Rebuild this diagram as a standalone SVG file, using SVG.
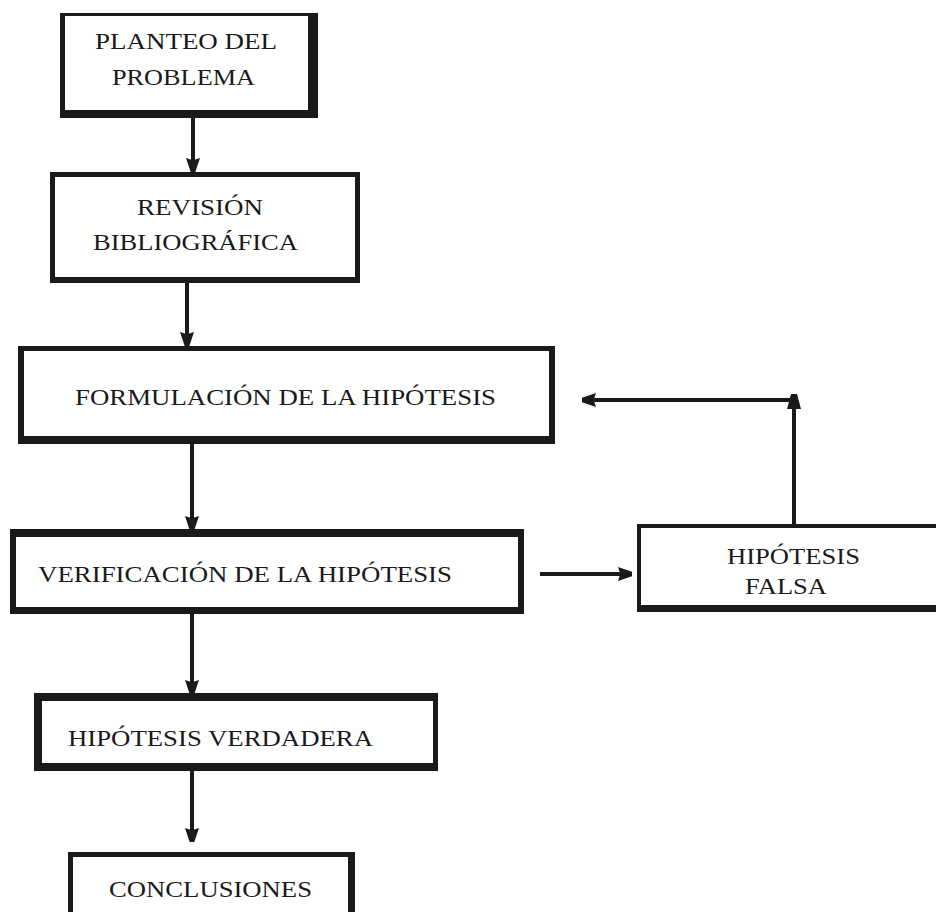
<svg xmlns="http://www.w3.org/2000/svg" width="936" height="912" viewBox="0 0 936 912">
<style>
.o{fill:#1a1a1a}
.i{fill:#fff}
.t{font-family:"Liberation Serif","DejaVu Serif",serif;font-size:23px;fill:#1a1a1a}
.c{stroke:#1a1a1a;stroke-width:4;fill:none}
</style>
<defs>
<marker id="ah" viewBox="0 0 12 12" refX="12" refY="6" markerWidth="14" markerHeight="14" markerUnits="userSpaceOnUse" orient="auto">
<path d="M0,0 L12,4 L12,8 L0,12 L2,6 z" fill="#1a1a1a"/>
</marker>
</defs>
<rect width="936" height="912" fill="#fff"/>
<g id="connectors">
<path class="c" d="M193,118 V172" marker-end="url(#ah)"/>
<path class="c" d="M187,283 V346" marker-end="url(#ah)"/>
<path class="c" d="M192,444 V530" marker-end="url(#ah)"/>
<path class="c" d="M192,613 V694" marker-end="url(#ah)"/>
<path class="c" d="M192,771 V842" marker-end="url(#ah)"/>
<path class="c" d="M540,574 H632" marker-end="url(#ah)"/>
<path class="c" d="M794,525 V400 H582" marker-end="url(#ah)"/>
<path d="M787,409 L791,394 L797,394 L801,409 z" fill="#1a1a1a"/>
</g>
<g id="n1">
<rect class="o" x="60" y="13" width="258" height="105"/>
<rect class="i" x="65" y="16" width="243" height="94"/>
<text class="t" x="95" y="49" textLength="182" lengthAdjust="spacingAndGlyphs">PLANTEO DEL</text>
<text class="t" x="112" y="85" textLength="143" lengthAdjust="spacingAndGlyphs">PROBLEMA</text>
</g>
<g id="n2">
<rect class="o" x="50" y="172" width="310" height="111"/>
<rect class="i" x="55" y="177" width="300" height="100"/>
<text class="t" x="137" y="215" textLength="126" lengthAdjust="spacingAndGlyphs">REVISIÓN</text>
<text class="t" x="93" y="250" textLength="205" lengthAdjust="spacingAndGlyphs">BIBLIOGRÁFICA</text>
</g>
<g id="n3">
<rect class="o" x="18" y="346" width="537" height="98"/>
<rect class="i" x="24" y="351" width="525" height="85"/>
<text class="t" x="75" y="405" textLength="421" lengthAdjust="spacingAndGlyphs">FORMULACIÓN DE LA HIPÓTESIS</text>
</g>
<g id="n4">
<rect class="o" x="10" y="529" width="514" height="85"/>
<rect class="i" x="16" y="537" width="502" height="70"/>
<text class="t" x="38" y="582" textLength="414" lengthAdjust="spacingAndGlyphs">VERIFICACIÓN DE LA HIPÓTESIS</text>
</g>
<g id="n5">
<rect class="o" x="637" y="524" width="310" height="88"/>
<rect class="i" x="641" y="528" width="310" height="77"/>
<text class="t" x="727" y="564" textLength="133" lengthAdjust="spacingAndGlyphs">HIPÓTESIS</text>
<text class="t" x="745" y="594" textLength="82" lengthAdjust="spacingAndGlyphs">FALSA</text>
</g>
<g id="n6">
<rect class="o" x="34" y="693" width="404" height="78"/>
<rect class="i" x="42" y="701" width="391" height="62"/>
<text class="t" x="68" y="746" textLength="305" lengthAdjust="spacingAndGlyphs">HIPÓTESIS VERDADERA</text>
</g>
<g id="n7">
<rect class="o" x="68" y="852" width="287" height="70"/>
<rect class="i" x="73" y="857" width="275" height="70"/>
<text class="t" x="109" y="897" textLength="203" lengthAdjust="spacingAndGlyphs">CONCLUSIONES</text>
</g>
</svg>
